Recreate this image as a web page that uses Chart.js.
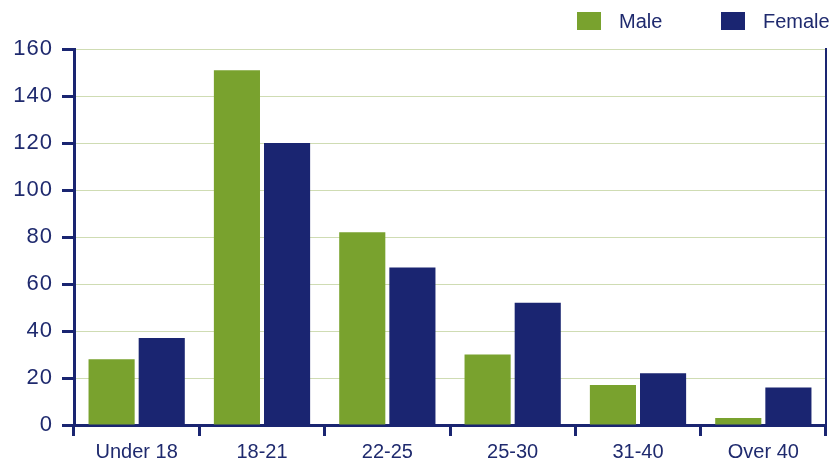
<!DOCTYPE html>
<html>
<head>
<meta charset="utf-8">
<script src="https://cdn.jsdelivr.net/npm/chart.js@4/dist/chart.umd.min.js"></script>
<style>
	html, body { margin: 0; padding: 0; background: #fff; }
	#wrap { position: relative; width: 836px; height: 464px; }
	#legend { position: absolute; top: 0; left: 0; width: 836px; height: 40px; font-family: "Liberation Sans", Arial, sans-serif; font-size: 20px; color: #1f2a6e; }
	.item { position: absolute; top: 12px; height: 18px; line-height: 18px; }
	.box { position: absolute; left: 0; top: 0; width: 24px; height: 18px; }
	.label { position: absolute; left: 42px; top: 0; white-space: nowrap; }
</style>
</head>
<body>
<div id="wrap">
	<canvas id="chart" width="836" height="464"></canvas>
	<div id="legend"></div>
</div>
<script>
const ageGroups = ["Under 18", "18-21", "22-25", "25-30", "31-40", "Over 40"]
const male = [28, 151, 82, 30, 17, 3]
const female = [37, 120, 67, 52, 22, 16]
const seriesNames = ["Male", "Female"]
const legendLeft = [577, 721]

const navy = "#1a2571"
const green = "#79a22e"
const textColor = "#1f2a6e"
const gridColor = "#cfdcb3"

// legend sits above the plot, right aligned
const legendEl = document.getElementById("legend")
const colors = [green, navy]
for (let i = 0; i < seriesNames.length; i++) {
	const item = document.createElement("div")
	item.className = "item"
	item.style.left = legendLeft[i] + "px"
	const box = document.createElement("div")
	box.className = "box"
	box.style.background = colors[i]
	const label = document.createElement("div")
	label.className = "label"
	label.textContent = seriesNames[i]
	item.appendChild(box)
	item.appendChild(label)
	legendEl.appendChild(item)
}

// the value labels are set a little wider than the category labels
const spacedYLabels = {
	id: "spacedYLabels",
	beforeDraw(chart) {
		const y = chart.scales.y
		if (!y || y._spaced) return
		const orig = y.drawLabels.bind(y)
		y.drawLabels = (area) => {
			chart.ctx.save()
			chart.ctx.letterSpacing = "1px"
			orig(area)
			chart.ctx.restore()
		}
		y._spaced = true
	},
}

const config = {
	type: "bar",
	data: {
		labels: ageGroups,
		datasets: [
			{ label: seriesNames[0], data: male, backgroundColor: green },
			{ label: seriesNames[1], data: female, backgroundColor: navy },
		],
	},
	options: {
		responsive: false,
		animation: false,
		layout: { padding: { top: 49, right: 0, left: 0, bottom: 0 } },
		categoryPercentage: 0.8,
		barPercentage: 0.92,
		plugins: { legend: { display: false }, tooltip: { enabled: false } },
		scales: {
			x: {
				offset: true,
				grid: {
					offset: true,
					drawOnChartArea: false,
					tickColor: navy,
					tickWidth: 3,
					tickLength: 11,
				},
				border: { color: navy, width: 3 },
				ticks: { color: textColor, font: { family: "Liberation Sans", size: 20 }, padding: 4 },
				afterFit: (scale) => { scale.height = 39 },
			},
			y: {
				min: 0,
				max: 160,
				ticks: { stepSize: 20, color: textColor, font: { family: "Liberation Sans", size: 22 }, padding: 9 },
				grid: { color: gridColor, lineWidth: 1, tickColor: navy, tickWidth: 3, tickLength: 12 },
				border: { color: navy, width: 3 },
				afterFit: (scale) => { scale.width = 74 },
			},
			// closing frame line on the right
			yRight: {
				position: "right",
				min: 0,
				max: 160,
				ticks: { display: false },
				grid: { drawOnChartArea: false, drawTicks: false },
				border: { color: navy, width: 2 },
				afterFit: (scale) => { scale.width = 10 },
			},
		},
	},
	plugins: [spacedYLabels],
}

new Chart(document.getElementById("chart"), config)
</script>
</body>
</html>
